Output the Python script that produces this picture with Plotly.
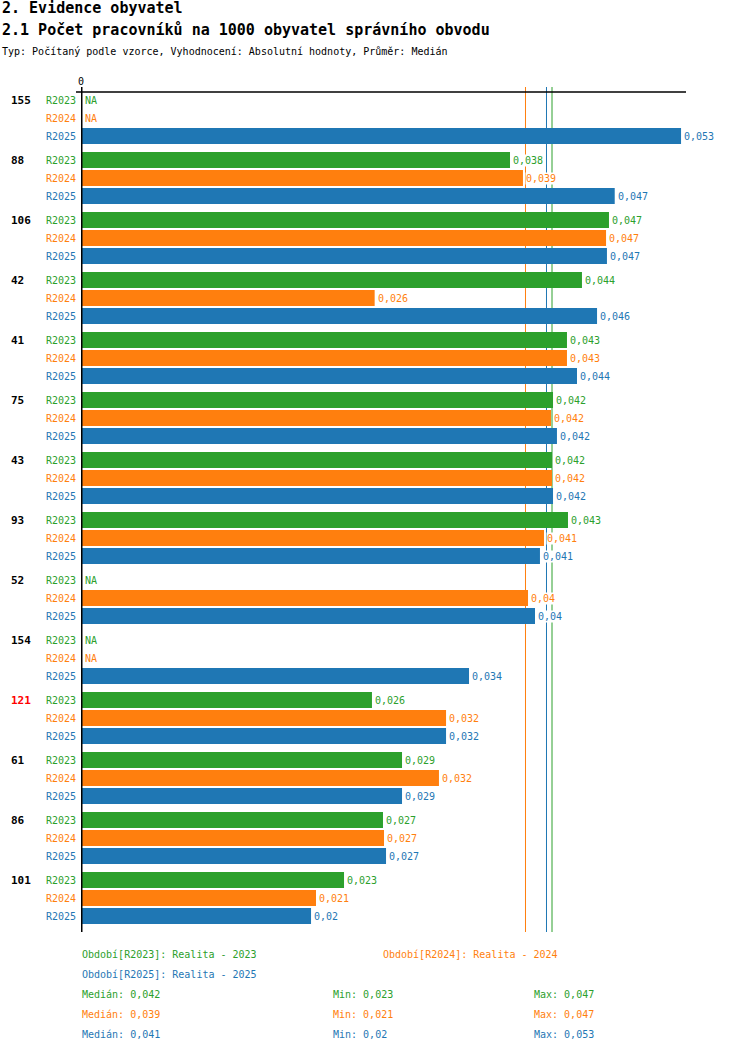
import numpy as np
import plotly.graph_objects as go

# Data
groups = ['155', '88', '106', '42', '41', '75', '43', '93', '52', '154', '121', '61', '86', '101']
highlighted = ['121']
series = ['R2023', 'R2024', 'R2025']
series_names = ['Realita - 2023', 'Realita - 2024', 'Realita - 2025']
r2023 = [None, 0.0381, 0.04689, 0.04449, 0.04316, 0.04192, 0.04183, 0.04325, None, None,
         0.02584, 0.02851, 0.02682, 0.02336]
r2024 = [None, 0.03925, 0.04663, 0.02608, 0.04316, 0.04174, 0.04183, 0.04112, 0.0397, None,
         0.03242, 0.03179, 0.02691, 0.02087]
r2025 = [0.05329, 0.0474, 0.04671, 0.04583, 0.04405, 0.04227, 0.04192, 0.04076, 0.04032, 0.03446,
         0.03242, 0.02851, 0.02709, 0.02043]
values = [r2023, r2024, r2025]

colors = ['#2ca02c', '#ff7f0e', '#1f77b4']
FONT = 'DejaVu Sans Mono'

# plot area in pixels
L, R, T, B = 81, 686, 87, 932
W, H = 750, 1052
GROUP_STEP, BAR_STEP = 60, 18


def px(x):
    return (x - L) / (R - L)


def py(y):
    return (B - y) / (B - T)


def fmt(v):
    return str(round(v, 3)).replace('.', ',')


fig = go.Figure()

ann = []
for k, s in enumerate(series):
    ys = [g * GROUP_STEP + k * BAR_STEP for g in range(len(groups))]
    fig.add_trace(go.Bar(
        x=values[k], y=ys, orientation='h', width=16,
        marker=dict(color=colors[k], line=dict(width=0)),
        name=s, showlegend=False, hoverinfo='x'
    ))
    for y, v in zip(ys, values[k]):
        # series label on the left
        ann.append(dict(x=px(78), xref='paper', y=y, yref='y', text=s,
                        xanchor='right', yanchor='middle', showarrow=False,
                        font=dict(family=FONT, size=10, color=colors[k])))
        if v is None:
            ann.append(dict(x=0, xref='x', y=y, yref='y', text='NA', xshift=2,
                            xanchor='left', yanchor='middle', showarrow=False,
                            font=dict(family=FONT, size=10, color=colors[k])))
        else:
            ann.append(dict(x=v, xref='x', y=y, yref='y', text=fmt(v), xshift=2,
                            xanchor='left', yanchor='middle', showarrow=False,
                            bgcolor='white', borderpad=0,
                            font=dict(family=FONT, size=10, color=colors[k])))

# group labels
for g, name in enumerate(groups):
    ann.append(dict(x=px(9), xref='paper', y=g * GROUP_STEP, yref='y',
                    text='<b>' + name + '</b>', xanchor='left', yanchor='middle',
                    showarrow=False,
                    font=dict(family=FONT, size=11,
                              color='#ff0000' if name in highlighted else 'black')))

# medians, min, max
shapes = []
stats = []
for k in range(3):
    vals = np.array([v for v in values[k] if v is not None])
    med = float(np.median(vals))
    stats.append((med, vals.min(), vals.max()))
    shapes.append(dict(type='line', xref='x', yref='paper', x0=med, x1=med, y0=0, y1=1,
                       line=dict(color=colors[k], width=1), layer='below'))

# top line and zero axis
shapes.append(dict(type='line', xref='paper', yref='y', x0=px(76), x1=1, y0=-8, y1=-8,
                   line=dict(color='black', width=1.5)))
shapes.append(dict(type='line', xref='x', yref='paper', x0=0, x1=0, y0=0, y1=1,
                   line=dict(color='black', width=3)))

ann.append(dict(x=0, xref='x', y=py(81), yref='paper', text='0', showarrow=False,
                xanchor='center', yanchor='middle', font=dict(family=FONT, size=10, color='black')))

# titles
ann.append(dict(x=px(0), xref='paper', y=py(8), yref='paper', text='<b>2. Evidence obyvatel</b>',
                xanchor='left', yanchor='middle', showarrow=False,
                font=dict(family=FONT, size=15, color='black')))
ann.append(dict(x=px(0), xref='paper', y=py(30), yref='paper',
                text='<b>2.1 Počet pracovníků na 1000 obyvatel správního obvodu</b>',
                xanchor='left', yanchor='middle', showarrow=False,
                font=dict(family=FONT, size=15, color='black')))
ann.append(dict(x=px(0), xref='paper', y=py(51), yref='paper',
                text='Typ: Počítaný podle vzorce, Vyhodnocení: Absolutní hodnoty, Průměr: Medián',
                xanchor='left', yanchor='middle', showarrow=False,
                font=dict(family=FONT, size=10, color='black')))

# bottom legend
legend_pos = [(80, 954), (381, 954), (80, 974)]
for k, s in enumerate(series):
    x, y = legend_pos[k]
    ann.append(dict(x=px(x), xref='paper', y=py(y), yref='paper',
                    text=f'Období[{s}]: {series_names[k]}', xanchor='left', yanchor='middle',
                    showarrow=False, font=dict(family=FONT, size=10, color=colors[k])))
for k in range(3):
    med, mn, mx = stats[k]
    y = 994 + 20 * k
    for x, label in [(80, 'Medián: ' + fmt(med)), (331, 'Min: ' + fmt(mn)), (532, 'Max: ' + fmt(mx))]:
        ann.append(dict(x=px(x), xref='paper', y=py(y), yref='paper', text=label,
                        xanchor='left', yanchor='middle', showarrow=False,
                        font=dict(family=FONT, size=10, color=colors[k])))

fig.update_layout(
    width=W, height=H,
    margin=dict(l=L, r=W - R, t=T, b=H - B, pad=0),
    paper_bgcolor='white', plot_bgcolor='white',
    barmode='overlay',
    xaxis=dict(range=[0, (R - L) / 11260], visible=False, fixedrange=True),
    yaxis=dict(range=[B - 100, T - 100], visible=False, fixedrange=True),
    annotations=ann, shapes=shapes,
    font=dict(family=FONT)
)

# page body margin off so the figure starts at the window corner
fig.write_html('out.html', config={'displayModeBar': False},
               post_script="document.body.style.margin='0';")
